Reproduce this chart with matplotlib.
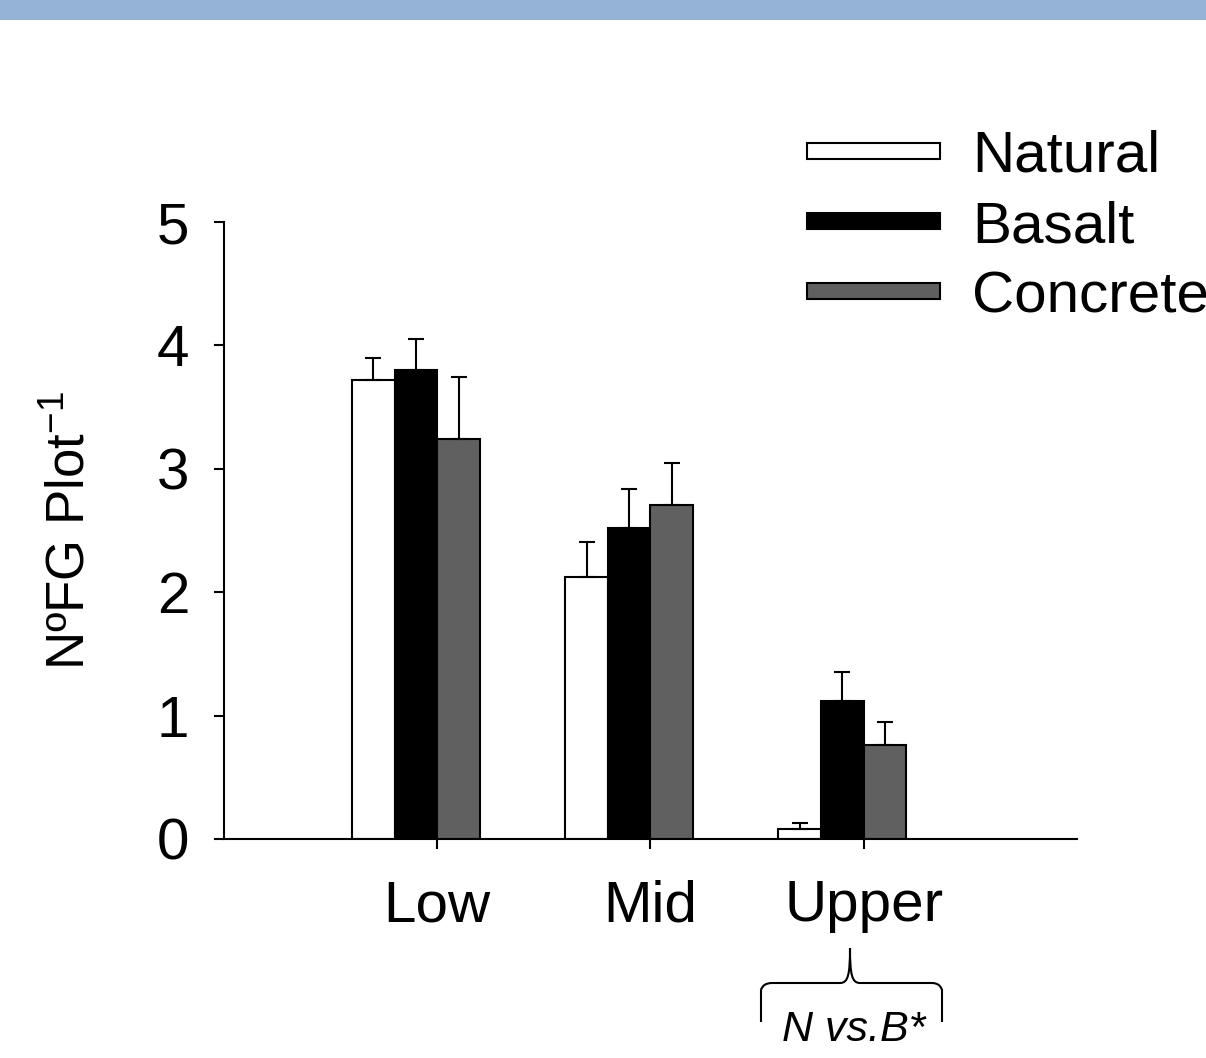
import matplotlib
matplotlib.use("Agg")
import matplotlib.pyplot as plt
import numpy as np
from matplotlib.patches import Rectangle, PathPatch
from matplotlib.path import Path
from matplotlib.transforms import Affine2D

plt.rcParams["font.family"] = ["Liberation Sans", "DejaVu Sans"]
plt.rcParams["mathtext.fontset"] = "custom"
plt.rcParams["mathtext.rm"] = "Liberation Sans"
plt.rcParams["mathtext.it"] = "Liberation Sans:italic"

# ── data ──────────────────────────────────────────────────────────────────────
zones = ["Low", "Mid", "Upper"]
natural = [3.72, 2.12, 0.08]
natural_se = [0.18, 0.29, 0.05]
basalt = [3.80, 2.52, 1.12]
basalt_se = [0.25, 0.32, 0.23]
concrete = [3.24, 2.71, 0.76]
concrete_se = [0.50, 0.34, 0.19]

W, H = 1206, 1058
fig = plt.figure(figsize=(W / 100, H / 100), dpi=100)
ax = fig.add_axes([224 / W, 1 - 839 / H, (1077 - 224) / W, (839 - 222) / H])

# top banner
fig.patches.append(Rectangle((0, 1 - 20 / H), 1, 20 / H, transform=fig.transFigure,
                             facecolor="#95B3D7", edgecolor="none"))

x = np.arange(1, len(zones) + 1)
bw = 0.2
series = [
    ("Natural", natural, natural_se, "white", -0.3),
    ("Basalt", basalt, basalt_se, "black", -0.1),
    ("Concrete", concrete, concrete_se, "#606060", 0.1),
]
for label, vals, se, col, off in series:
    ax.bar(x + off, vals, bw, color=col, edgecolor="black", linewidth=1.5,
           label=label, zorder=2)
    ax.errorbar(x + off, vals, yerr=[np.zeros(len(se)), se], fmt="none",
                ecolor="black", elinewidth=1.5, capsize=6, capthick=1.5, zorder=3)

ax.set_xlim(0, 4)
ax.set_ylim(0, 5)
ax.set_xticks(x)
ax.set_xticklabels(zones)
ax.set_yticks(range(6))
for s in ("top", "right"):
    ax.spines[s].set_visible(False)
for s in ("left", "bottom"):
    ax.spines[s].set_linewidth(1.5)
ax.tick_params(axis="y", direction="out", length=7, width=1.5, labelsize=42, pad=18)
ax.tick_params(axis="x", direction="out", length=7, width=1.5, labelsize=42, pad=22)
ax.set_ylabel(r"NºFG Plot$^{-1}$", fontsize=38, labelpad=44)

ax.legend(loc="upper left", bbox_to_anchor=(807 / W, 1 - 130 / H),
          bbox_transform=fig.transFigure, frameon=False, fontsize=42,
          handlelength=2.28, handleheight=0.05, handletextpad=0.55,
          labelspacing=0.28, borderpad=0, borderaxespad=0)

# brace under "Upper"
px = Affine2D().scale(1, -1).translate(0, H)
verts = [(761, 1022), (761, 990), (763, 983), (772, 983),
         (840, 983),
         (848, 983), (850, 975), (850, 948),
         (850, 975), (852, 983), (860, 983),
         (932, 983),
         (940, 983), (942, 990), (942, 1022)]
codes = [Path.MOVETO, Path.LINETO, Path.CURVE3, Path.CURVE3,
         Path.LINETO,
         Path.CURVE4, Path.CURVE4, Path.CURVE4,
         Path.CURVE4, Path.CURVE4, Path.CURVE4,
         Path.LINETO,
         Path.CURVE3, Path.CURVE3, Path.LINETO]
fig.patches.append(PathPatch(Path(verts, codes), transform=px, fill=False,
                             edgecolor="black", linewidth=1.5))
fig.text(854 / W, 1 - 1041 / H, "N vs.B*", fontsize=31, style="italic",
         ha="center", va="baseline")

fig.savefig("out.png", dpi=100)
